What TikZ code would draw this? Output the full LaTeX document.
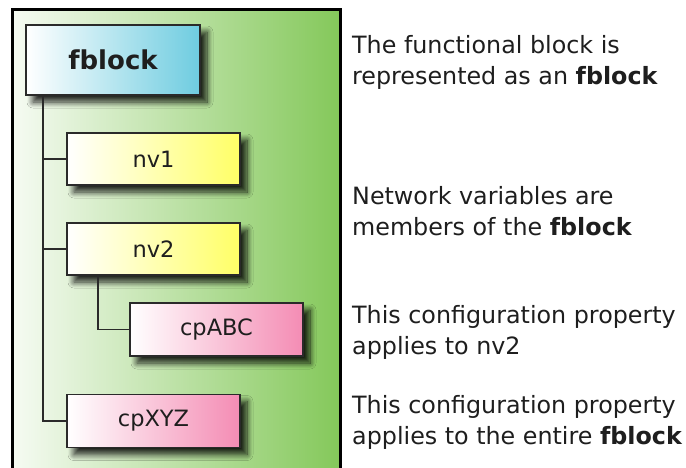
\documentclass[tikz,border=0pt]{standalone}
\usepackage{fontspec}
\setmainfont{DejaVu Sans}
\usetikzlibrary{shadows.blur,calc}
\definecolor{frameL}{HTML}{F6FBF3}
\definecolor{frameR}{HTML}{84C85A}
\definecolor{fbR}{HTML}{6ECCE0}
\definecolor{nvR}{HTML}{FFFF66}
\definecolor{cpR}{HTML}{F48CB4}
\definecolor{linec}{HTML}{2A2A2A}
\definecolor{txt}{HTML}{1E1E1E}
\tikzset{
  boxbase/.style={draw=linec, line width=1.6pt, rectangle, inner sep=0pt,
    shading=axis, shading angle=90, text=txt,
    blur shadow={shadow xshift=7pt, shadow yshift=-7pt, shadow blur radius=6pt,
      shadow blur steps=10, shadow opacity=85}},
  fbbox/.style={boxbase, left color=white, right color=fbR, minimum width=174pt, minimum height=70pt,
    font=\fontsize{26}{30}\selectfont\bfseries},
  nvbox/.style={boxbase, left color=white, right color=nvR, minimum width=173pt, minimum height=52pt,
    font=\fontsize{22.5}{26}\selectfont},
  cpbox/.style={boxbase, left color=white, right color=cpR, minimum width=173pt, minimum height=53pt,
    font=\fontsize{22.5}{26}\selectfont},
  conn/.style={draw=linec, line width=1.8pt},
  note/.style={anchor=west, align=left, inner sep=0pt, text=txt,
    font=\fontsize{23.8}{31}\selectfont}
}
\begin{document}
\begin{tikzpicture}[x=1pt,y=-1pt]
\useasboundingbox (0,0) rectangle (686,467);
\clip (0,0) rectangle (686,467);
\fill[white] (0,0) rectangle (686,467);
\shade[left color=frameL, right color=frameR, shading angle=90] (12,9) rectangle (340,480);
\draw[line width=3pt, black] (12,480) -- (12,9) -- (340,9) -- (340,480);

\coordinate (t1) at (43,95);
\coordinate (t2) at (98,275);
\node[fbbox] (fb) at (113,60) {fblock};
\node[nvbox] (nv1) at (153.5,159) {nv1};
\node[nvbox] (nv2) at (153.5,249) {nv2};
\node[cpbox] (abc) at (216.5,329.5) {cpABC};
\node[cpbox] (xyz) at (153.5,421) {cpXYZ};

\draw[conn] (t1) |- (xyz.west);
\draw[conn] (t1 |- nv1.west) -- (nv1.west);
\draw[conn] (t1 |- nv2.west) -- (nv2.west);
\draw[conn] (t2) |- (abc.west);

\node[note] (n1) at (352,62.5) {The functional block is\\represented as an \textbf{fblock}};
\node[note] (n2) at (352,211) {Network variables are\\members of the \textbf{fblock}};
\node[note] (n3) at (352,332.5) {This configuration property\\applies to nv2};
\node[note] (n4) at (352,422) {This configuration property\\applies to the entire \textbf{fblock}};
\end{tikzpicture}
\end{document}
